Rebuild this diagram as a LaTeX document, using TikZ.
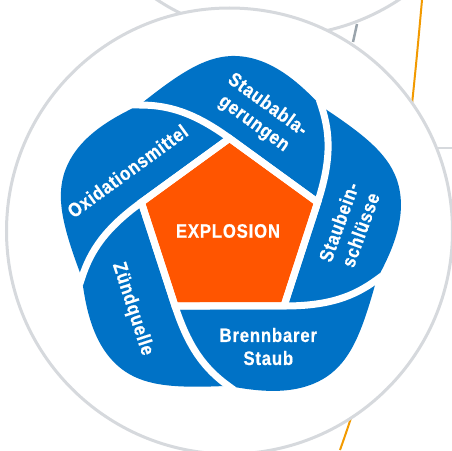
\documentclass[tikz,border=0pt]{standalone}
\usepackage{fontspec}
\newfontfamily\labelfont[FakeStretch=0.86,LetterSpace=4,FakeBold=0.6]{Liberation Sans}
\definecolor{ringgrey}{HTML}{D6D9DD}
\definecolor{linkgrey}{HTML}{9AA4AC}
\definecolor{segblue}{HTML}{0072C6}
\definecolor{coreorange}{HTML}{FF5500}
\definecolor{trackorange}{HTML}{F29A00}
\tikzset{
  seglabel/.style={text=white, font=\labelfont\bfseries\fontsize{19.5}{23}\selectfont, align=center, inner sep=0pt},
  gapline/.style={draw=white, line width=7pt, line join=round},
}
\begin{document}
\begin{tikzpicture}[x=1pt, y=1pt]
  \useasboundingbox (-229.5,-219) rectangle (222.5,231);
  % rings and tracks behind the wheel
  \draw[ringgrey, line width=3pt] (48.5,415) circle (220);
  \draw[trackorange, line width=2pt] (192.5,231) .. controls (179,81) and (164.5,-69) .. (110.5,-219);
  \draw[linkgrey, line width=2.5pt] (127.5,207) -- (123.5,189);
  \draw[ringgrey, line width=1.5pt] (207,83) -- (222.5,83);
  \draw[ringgrey, line width=3pt, fill=white] (0,0) circle (223);
  % one blade, turned five times
  \foreach \k in {0,...,4}
    \fill[segblue, rotate=72*\k] (88.16,28.65) -- (0,92.7) .. controls (-36.4,119.2) and (-62,126) .. (-90,126)
      .. controls (-50,158) and (-25,174) .. (2,175) .. controls (40,176) and (70,148) .. (92.02,124.53)
      .. controls (100.67,97.91) and (102.12,71.46) .. (88.16,28.65) -- cycle;
  \fill[coreorange] (90:92.7) -- (162:92.7) -- (234:92.7) -- (306:92.7) -- (18:92.7) -- cycle;
  % white gaps between the pieces
  \foreach \k in {0,...,4}
    \draw[gapline, rotate=72*\k] (88.16,28.65) -- (0,92.7) .. controls (-36.4,119.2) and (-62,126) .. (-90,126) -- (-97,126);
  \draw[gapline, line join=miter] (90:92.7) -- (162:92.7) -- (234:92.7) -- (306:92.7) -- (18:92.7) -- cycle;
  % labels
  \node[seglabel] (core) at (-1.5,0) {EXPLOSION};
  \node[seglabel, rotate=-36] (deposit) at (31,116.5) {Staubabla-\\gerungen};
  \node[seglabel, rotate=36] (oxid) at (-102,60) {Oxidationsmittel};
  \node[seglabel, rotate=-72] (ignite) at (-97,-78) {Zündquelle};
  \node[seglabel] (fuel) at (38.8,-115.5) {Brennbarer\\Staub};
  \node[seglabel, rotate=70] (pocket) at (120,5) {Staubein-\\schlüsse};
\end{tikzpicture}
\end{document}
